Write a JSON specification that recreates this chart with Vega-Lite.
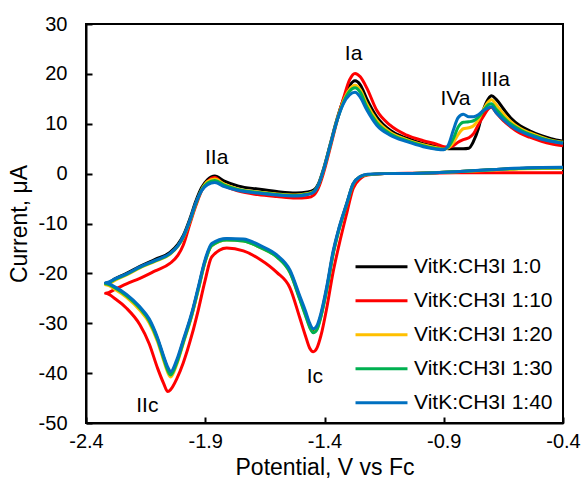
{
  "$schema": "https://vega.github.io/schema/vega-lite/v6.json",
  "width": 477,
  "height": 399,
  "autosize": {"type": "none"},
  "padding": {"left": 86, "top": 24, "right": 23, "bottom": 62},
  "background": "white",
  "config": {
    "font": "Liberation Sans",
    "view": {"stroke": "black", "strokeWidth": 2},
    "axis": {"grid": false, "domainColor": "black", "domainWidth": 2, "tickColor": "black", "tickWidth": 2, "labelColor": "black", "titleColor": "black", "labelFont": "Liberation Sans", "titleFont": "Liberation Sans", "labelFontSize": 20, "titleFontSize": 23, "titleFontWeight": "normal"}
  },
  "layer": [
    {
      "data": {
        "values": [
          {"i":0,"x":-0.40,"VitK:CH3I 1:0":1.2,"VitK:CH3I 1:10":0.2,"VitK:CH3I 1:20":1.1,"VitK:CH3I 1:30":1.2,"VitK:CH3I 1:40":1.3},
          {"i":1,"x":-0.55,"VitK:CH3I 1:0":1.1,"VitK:CH3I 1:10":0.2,"VitK:CH3I 1:20":1.0,"VitK:CH3I 1:30":1.1,"VitK:CH3I 1:40":1.2},
          {"i":2,"x":-0.70,"VitK:CH3I 1:0":0.8,"VitK:CH3I 1:10":0.2,"VitK:CH3I 1:20":0.7,"VitK:CH3I 1:30":0.8,"VitK:CH3I 1:40":0.8},
          {"i":3,"x":-0.85,"VitK:CH3I 1:0":0.4,"VitK:CH3I 1:10":0.2,"VitK:CH3I 1:20":0.4,"VitK:CH3I 1:30":0.4,"VitK:CH3I 1:40":0.4},
          {"i":4,"x":-1.00,"VitK:CH3I 1:0":0.1,"VitK:CH3I 1:10":0.1,"VitK:CH3I 1:20":0.1,"VitK:CH3I 1:30":0.1,"VitK:CH3I 1:40":0.1},
          {"i":5,"x":-1.15,"VitK:CH3I 1:0":0.0,"VitK:CH3I 1:10":0.0,"VitK:CH3I 1:20":0.0,"VitK:CH3I 1:30":0.0,"VitK:CH3I 1:40":0.0},
          {"i":6,"x":-1.22,"VitK:CH3I 1:0":-0.2,"VitK:CH3I 1:10":-0.3,"VitK:CH3I 1:20":-0.2,"VitK:CH3I 1:30":-0.2,"VitK:CH3I 1:40":-0.1},
          {"i":7,"x":-1.25,"VitK:CH3I 1:0":-0.6,"VitK:CH3I 1:10":-1.0,"VitK:CH3I 1:20":-0.6,"VitK:CH3I 1:30":-0.6,"VitK:CH3I 1:40":-0.6},
          {"i":8,"x":-1.28,"VitK:CH3I 1:0":-2.1,"VitK:CH3I 1:10":-3.0,"VitK:CH3I 1:20":-2.1,"VitK:CH3I 1:30":-2.1,"VitK:CH3I 1:40":-2.0},
          {"i":9,"x":-1.307,"VitK:CH3I 1:0":-6.1,"VitK:CH3I 1:10":-8.0,"VitK:CH3I 1:20":-6.1,"VitK:CH3I 1:30":-6.2,"VitK:CH3I 1:40":-6.0},
          {"i":10,"x":-1.34,"VitK:CH3I 1:0":-11.2,"VitK:CH3I 1:10":-14.5,"VitK:CH3I 1:20":-11.3,"VitK:CH3I 1:30":-11.4,"VitK:CH3I 1:40":-11.0},
          {"i":11,"x":-1.365,"VitK:CH3I 1:0":-16.2,"VitK:CH3I 1:10":-20.0,"VitK:CH3I 1:20":-16.3,"VitK:CH3I 1:30":-16.4,"VitK:CH3I 1:40":-15.8},
          {"i":12,"x":-1.39,"VitK:CH3I 1:0":-22.9,"VitK:CH3I 1:10":-26.8,"VitK:CH3I 1:20":-23.0,"VitK:CH3I 1:30":-23.1,"VitK:CH3I 1:40":-22.5},
          {"i":13,"x":-1.415,"VitK:CH3I 1:0":-28.4,"VitK:CH3I 1:10":-32.5,"VitK:CH3I 1:20":-28.6,"VitK:CH3I 1:30":-28.7,"VitK:CH3I 1:40":-28.0},
          {"i":14,"x":-1.432,"VitK:CH3I 1:0":-30.9,"VitK:CH3I 1:10":-35.0,"VitK:CH3I 1:20":-31.2,"VitK:CH3I 1:30":-31.3,"VitK:CH3I 1:40":-30.5},
          {"i":15,"x":-1.447,"VitK:CH3I 1:0":-31.5,"VitK:CH3I 1:10":-35.7,"VitK:CH3I 1:20":-31.8,"VitK:CH3I 1:30":-31.9,"VitK:CH3I 1:40":-31.1},
          {"i":16,"x":-1.462,"VitK:CH3I 1:0":-30.4,"VitK:CH3I 1:10":-35.0,"VitK:CH3I 1:20":-30.7,"VitK:CH3I 1:30":-30.8,"VitK:CH3I 1:40":-30.0},
          {"i":17,"x":-1.48,"VitK:CH3I 1:0":-28.0,"VitK:CH3I 1:10":-32.5,"VitK:CH3I 1:20":-28.3,"VitK:CH3I 1:30":-28.4,"VitK:CH3I 1:40":-27.5},
          {"i":18,"x":-1.503,"VitK:CH3I 1:0":-25.0,"VitK:CH3I 1:10":-29.0,"VitK:CH3I 1:20":-25.2,"VitK:CH3I 1:30":-25.3,"VitK:CH3I 1:40":-24.6},
          {"i":19,"x":-1.545,"VitK:CH3I 1:0":-19.6,"VitK:CH3I 1:10":-22.9,"VitK:CH3I 1:20":-19.8,"VitK:CH3I 1:30":-19.8,"VitK:CH3I 1:40":-19.3},
          {"i":20,"x":-1.60,"VitK:CH3I 1:0":-16.6,"VitK:CH3I 1:10":-19.8,"VitK:CH3I 1:20":-16.7,"VitK:CH3I 1:30":-16.7,"VitK:CH3I 1:40":-16.3},
          {"i":21,"x":-1.67,"VitK:CH3I 1:0":-14.7,"VitK:CH3I 1:10":-17.2,"VitK:CH3I 1:20":-14.8,"VitK:CH3I 1:30":-14.8,"VitK:CH3I 1:40":-14.4},
          {"i":22,"x":-1.74,"VitK:CH3I 1:0":-13.4,"VitK:CH3I 1:10":-15.5,"VitK:CH3I 1:20":-13.5,"VitK:CH3I 1:30":-13.5,"VitK:CH3I 1:40":-13.1},
          {"i":23,"x":-1.81,"VitK:CH3I 1:0":-13.1,"VitK:CH3I 1:10":-14.9,"VitK:CH3I 1:20":-13.3,"VitK:CH3I 1:30":-13.3,"VitK:CH3I 1:40":-13.0},
          {"i":24,"x":-1.873,"VitK:CH3I 1:0":-14.3,"VitK:CH3I 1:10":-16.7,"VitK:CH3I 1:20":-14.5,"VitK:CH3I 1:30":-14.4,"VitK:CH3I 1:40":-14.0},
          {"i":25,"x":-1.901,"VitK:CH3I 1:0":-17.6,"VitK:CH3I 1:10":-21.5,"VitK:CH3I 1:20":-17.8,"VitK:CH3I 1:30":-17.7,"VitK:CH3I 1:40":-17.3},
          {"i":26,"x":-1.929,"VitK:CH3I 1:0":-23.0,"VitK:CH3I 1:10":-27.3,"VitK:CH3I 1:20":-23.3,"VitK:CH3I 1:30":-23.1,"VitK:CH3I 1:40":-22.7},
          {"i":27,"x":-1.957,"VitK:CH3I 1:0":-28.3,"VitK:CH3I 1:10":-32.5,"VitK:CH3I 1:20":-28.6,"VitK:CH3I 1:30":-28.4,"VitK:CH3I 1:40":-28.0},
          {"i":28,"x":-1.992,"VitK:CH3I 1:0":-33.6,"VitK:CH3I 1:10":-37.9,"VitK:CH3I 1:20":-34.0,"VitK:CH3I 1:30":-33.8,"VitK:CH3I 1:40":-33.3},
          {"i":29,"x":-2.02,"VitK:CH3I 1:0":-37.8,"VitK:CH3I 1:10":-41.2,"VitK:CH3I 1:20":-38.3,"VitK:CH3I 1:30":-38.0,"VitK:CH3I 1:40":-37.4},
          {"i":30,"x":-2.045,"VitK:CH3I 1:0":-40.1,"VitK:CH3I 1:10":-43.3,"VitK:CH3I 1:20":-40.8,"VitK:CH3I 1:30":-40.4,"VitK:CH3I 1:40":-39.7},
          {"i":31,"x":-2.057,"VitK:CH3I 1:0":-39.2,"VitK:CH3I 1:10":-43.7,"VitK:CH3I 1:20":-39.9,"VitK:CH3I 1:30":-39.5,"VitK:CH3I 1:40":-38.8},
          {"i":32,"x":-2.075,"VitK:CH3I 1:0":-36.8,"VitK:CH3I 1:10":-42.0,"VitK:CH3I 1:20":-37.4,"VitK:CH3I 1:30":-37.0,"VitK:CH3I 1:40":-36.5},
          {"i":33,"x":-2.10,"VitK:CH3I 1:0":-33.2,"VitK:CH3I 1:10":-39.0,"VitK:CH3I 1:20":-33.7,"VitK:CH3I 1:30":-33.3,"VitK:CH3I 1:40":-32.9},
          {"i":34,"x":-2.135,"VitK:CH3I 1:0":-29.4,"VitK:CH3I 1:10":-34.1,"VitK:CH3I 1:20":-29.9,"VitK:CH3I 1:30":-29.5,"VitK:CH3I 1:40":-29.1},
          {"i":35,"x":-2.174,"VitK:CH3I 1:0":-27.0,"VitK:CH3I 1:10":-30.3,"VitK:CH3I 1:20":-27.4,"VitK:CH3I 1:30":-27.0,"VitK:CH3I 1:40":-26.7},
          {"i":36,"x":-2.23,"VitK:CH3I 1:0":-24.4,"VitK:CH3I 1:10":-27.0,"VitK:CH3I 1:20":-24.8,"VitK:CH3I 1:30":-24.5,"VitK:CH3I 1:40":-24.2},
          {"i":37,"x":-2.275,"VitK:CH3I 1:0":-23.0,"VitK:CH3I 1:10":-25.2,"VitK:CH3I 1:20":-23.3,"VitK:CH3I 1:30":-23.0,"VitK:CH3I 1:40":-22.8},
          {"i":38,"x":-2.318,"VitK:CH3I 1:0":-22.0,"VitK:CH3I 1:10":-24.0,"VitK:CH3I 1:20":-22.3,"VitK:CH3I 1:30":-22.1,"VitK:CH3I 1:40":-21.9},
          {"i":39,"x":-2.275,"VitK:CH3I 1:0":-21.0,"VitK:CH3I 1:10":-23.1,"VitK:CH3I 1:20":-21.3,"VitK:CH3I 1:30":-21.1,"VitK:CH3I 1:40":-21.0},
          {"i":40,"x":-2.23,"VitK:CH3I 1:0":-20.0,"VitK:CH3I 1:10":-22.1,"VitK:CH3I 1:20":-20.3,"VitK:CH3I 1:30":-20.2,"VitK:CH3I 1:40":-20.1},
          {"i":41,"x":-2.174,"VitK:CH3I 1:0":-18.6,"VitK:CH3I 1:10":-21.0,"VitK:CH3I 1:20":-18.9,"VitK:CH3I 1:30":-18.8,"VitK:CH3I 1:40":-18.7},
          {"i":42,"x":-2.11,"VitK:CH3I 1:0":-17.2,"VitK:CH3I 1:10":-19.5,"VitK:CH3I 1:20":-17.6,"VitK:CH3I 1:30":-17.5,"VitK:CH3I 1:40":-17.4},
          {"i":43,"x":-2.048,"VitK:CH3I 1:0":-15.8,"VitK:CH3I 1:10":-18.0,"VitK:CH3I 1:20":-16.2,"VitK:CH3I 1:30":-16.1,"VitK:CH3I 1:40":-16.0},
          {"i":44,"x":-2.015,"VitK:CH3I 1:0":-14.2,"VitK:CH3I 1:10":-16.4,"VitK:CH3I 1:20":-14.6,"VitK:CH3I 1:30":-14.5,"VitK:CH3I 1:40":-14.5},
          {"i":45,"x":-1.992,"VitK:CH3I 1:0":-12.4,"VitK:CH3I 1:10":-14.3,"VitK:CH3I 1:20":-12.8,"VitK:CH3I 1:30":-12.7,"VitK:CH3I 1:40":-12.6},
          {"i":46,"x":-1.964,"VitK:CH3I 1:0":-9.0,"VitK:CH3I 1:10":-10.0,"VitK:CH3I 1:20":-9.5,"VitK:CH3I 1:30":-9.4,"VitK:CH3I 1:40":-9.3},
          {"i":47,"x":-1.94,"VitK:CH3I 1:0":-5.6,"VitK:CH3I 1:10":-6.5,"VitK:CH3I 1:20":-6.1,"VitK:CH3I 1:30":-6.1,"VitK:CH3I 1:40":-5.9},
          {"i":48,"x":-1.915,"VitK:CH3I 1:0":-2.8,"VitK:CH3I 1:10":-3.4,"VitK:CH3I 1:20":-3.2,"VitK:CH3I 1:30":-3.3,"VitK:CH3I 1:40":-3.4},
          {"i":49,"x":-1.89,"VitK:CH3I 1:0":-1.2,"VitK:CH3I 1:10":-1.6,"VitK:CH3I 1:20":-1.6,"VitK:CH3I 1:30":-1.9,"VitK:CH3I 1:40":-2.2},
          {"i":50,"x":-1.86,"VitK:CH3I 1:0":-0.5,"VitK:CH3I 1:10":-0.8,"VitK:CH3I 1:20":-1.1,"VitK:CH3I 1:30":-1.4,"VitK:CH3I 1:40":-1.8},
          {"i":51,"x":-1.82,"VitK:CH3I 1:0":-1.5,"VitK:CH3I 1:10":-2.4,"VitK:CH3I 1:20":-2.1,"VitK:CH3I 1:30":-2.3,"VitK:CH3I 1:40":-2.6},
          {"i":52,"x":-1.76,"VitK:CH3I 1:0":-2.5,"VitK:CH3I 1:10":-3.5,"VitK:CH3I 1:20":-3.1,"VitK:CH3I 1:30":-3.2,"VitK:CH3I 1:40":-3.4},
          {"i":53,"x":-1.68,"VitK:CH3I 1:0":-3.1,"VitK:CH3I 1:10":-4.2,"VitK:CH3I 1:20":-3.7,"VitK:CH3I 1:30":-3.8,"VitK:CH3I 1:40":-3.9},
          {"i":54,"x":-1.60,"VitK:CH3I 1:0":-3.6,"VitK:CH3I 1:10":-4.6,"VitK:CH3I 1:20":-4.1,"VitK:CH3I 1:30":-4.2,"VitK:CH3I 1:40":-4.3},
          {"i":55,"x":-1.52,"VitK:CH3I 1:0":-3.9,"VitK:CH3I 1:10":-4.9,"VitK:CH3I 1:20":-4.3,"VitK:CH3I 1:30":-4.4,"VitK:CH3I 1:40":-4.5},
          {"i":56,"x":-1.47,"VitK:CH3I 1:0":-3.7,"VitK:CH3I 1:10":-4.8,"VitK:CH3I 1:20":-4.0,"VitK:CH3I 1:30":-4.1,"VitK:CH3I 1:40":-4.2},
          {"i":57,"x":-1.445,"VitK:CH3I 1:0":-3.3,"VitK:CH3I 1:10":-4.3,"VitK:CH3I 1:20":-3.6,"VitK:CH3I 1:30":-3.6,"VitK:CH3I 1:40":-3.7},
          {"i":58,"x":-1.425,"VitK:CH3I 1:0":-2.0,"VitK:CH3I 1:10":-2.8,"VitK:CH3I 1:20":-2.2,"VitK:CH3I 1:30":-2.2,"VitK:CH3I 1:40":-2.2},
          {"i":59,"x":-1.405,"VitK:CH3I 1:0":0.8,"VitK:CH3I 1:10":0.0,"VitK:CH3I 1:20":0.6,"VitK:CH3I 1:30":0.6,"VitK:CH3I 1:40":0.6},
          {"i":60,"x":-1.377,"VitK:CH3I 1:0":5.7,"VitK:CH3I 1:10":5.0,"VitK:CH3I 1:20":5.5,"VitK:CH3I 1:30":5.5,"VitK:CH3I 1:40":5.5},
          {"i":61,"x":-1.349,"VitK:CH3I 1:0":10.7,"VitK:CH3I 1:10":10.3,"VitK:CH3I 1:20":10.5,"VitK:CH3I 1:30":10.4,"VitK:CH3I 1:40":10.4},
          {"i":62,"x":-1.321,"VitK:CH3I 1:0":14.8,"VitK:CH3I 1:10":15.0,"VitK:CH3I 1:20":14.5,"VitK:CH3I 1:30":14.2,"VitK:CH3I 1:40":14.0},
          {"i":63,"x":-1.295,"VitK:CH3I 1:0":17.6,"VitK:CH3I 1:10":18.8,"VitK:CH3I 1:20":16.9,"VitK:CH3I 1:30":16.5,"VitK:CH3I 1:40":15.8},
          {"i":64,"x":-1.272,"VitK:CH3I 1:0":18.6,"VitK:CH3I 1:10":20.1,"VitK:CH3I 1:20":17.7,"VitK:CH3I 1:30":17.2,"VitK:CH3I 1:40":16.3},
          {"i":65,"x":-1.25,"VitK:CH3I 1:0":17.8,"VitK:CH3I 1:10":19.4,"VitK:CH3I 1:20":16.8,"VitK:CH3I 1:30":16.3,"VitK:CH3I 1:40":15.3},
          {"i":66,"x":-1.223,"VitK:CH3I 1:0":15.0,"VitK:CH3I 1:10":17.2,"VitK:CH3I 1:20":14.0,"VitK:CH3I 1:30":13.4,"VitK:CH3I 1:40":12.8},
          {"i":67,"x":-1.181,"VitK:CH3I 1:0":11.4,"VitK:CH3I 1:10":12.7,"VitK:CH3I 1:20":10.7,"VitK:CH3I 1:30":10.2,"VitK:CH3I 1:40":9.7},
          {"i":68,"x":-1.125,"VitK:CH3I 1:0":8.7,"VitK:CH3I 1:10":9.7,"VitK:CH3I 1:20":8.3,"VitK:CH3I 1:30":8.0,"VitK:CH3I 1:40":7.7},
          {"i":69,"x":-1.055,"VitK:CH3I 1:0":7.1,"VitK:CH3I 1:10":7.7,"VitK:CH3I 1:20":6.8,"VitK:CH3I 1:30":6.6,"VitK:CH3I 1:40":6.4},
          {"i":70,"x":-0.986,"VitK:CH3I 1:0":6.0,"VitK:CH3I 1:10":6.6,"VitK:CH3I 1:20":5.8,"VitK:CH3I 1:30":5.6,"VitK:CH3I 1:40":5.4},
          {"i":71,"x":-0.93,"VitK:CH3I 1:0":5.4,"VitK:CH3I 1:10":5.9,"VitK:CH3I 1:20":5.2,"VitK:CH3I 1:30":5.0,"VitK:CH3I 1:40":4.9},
          {"i":72,"x":-0.90,"VitK:CH3I 1:0":5.1,"VitK:CH3I 1:10":5.4,"VitK:CH3I 1:20":4.9,"VitK:CH3I 1:30":4.9,"VitK:CH3I 1:40":4.8},
          {"i":73,"x":-0.88,"VitK:CH3I 1:0":5.0,"VitK:CH3I 1:10":5.3,"VitK:CH3I 1:20":5.2,"VitK:CH3I 1:30":5.4,"VitK:CH3I 1:40":5.8},
          {"i":74,"x":-0.86,"VitK:CH3I 1:0":5.0,"VitK:CH3I 1:10":5.6,"VitK:CH3I 1:20":6.2,"VitK:CH3I 1:30":7.0,"VitK:CH3I 1:40":8.7},
          {"i":75,"x":-0.84,"VitK:CH3I 1:0":5.0,"VitK:CH3I 1:10":6.3,"VitK:CH3I 1:20":7.8,"VitK:CH3I 1:30":9.3,"VitK:CH3I 1:40":11.2},
          {"i":76,"x":-0.818,"VitK:CH3I 1:0":5.0,"VitK:CH3I 1:10":6.8,"VitK:CH3I 1:20":9.0,"VitK:CH3I 1:30":10.3,"VitK:CH3I 1:40":11.9},
          {"i":77,"x":-0.795,"VitK:CH3I 1:0":5.1,"VitK:CH3I 1:10":7.2,"VitK:CH3I 1:20":9.2,"VitK:CH3I 1:30":10.4,"VitK:CH3I 1:40":11.4},
          {"i":78,"x":-0.775,"VitK:CH3I 1:0":6.5,"VitK:CH3I 1:10":8.0,"VitK:CH3I 1:20":9.6,"VitK:CH3I 1:30":10.6,"VitK:CH3I 1:40":11.4},
          {"i":79,"x":-0.755,"VitK:CH3I 1:0":9.0,"VitK:CH3I 1:10":9.8,"VitK:CH3I 1:20":10.8,"VitK:CH3I 1:30":11.3,"VitK:CH3I 1:40":11.8},
          {"i":80,"x":-0.735,"VitK:CH3I 1:0":12.6,"VitK:CH3I 1:10":11.4,"VitK:CH3I 1:20":12.7,"VitK:CH3I 1:30":12.5,"VitK:CH3I 1:40":12.6},
          {"i":81,"x":-0.713,"VitK:CH3I 1:0":15.0,"VitK:CH3I 1:10":13.0,"VitK:CH3I 1:20":14.4,"VitK:CH3I 1:30":13.8,"VitK:CH3I 1:40":13.2},
          {"i":82,"x":-0.70,"VitK:CH3I 1:0":15.6,"VitK:CH3I 1:10":13.3,"VitK:CH3I 1:20":14.8,"VitK:CH3I 1:30":14.0,"VitK:CH3I 1:40":13.4},
          {"i":83,"x":-0.68,"VitK:CH3I 1:0":14.9,"VitK:CH3I 1:10":12.2,"VitK:CH3I 1:20":13.8,"VitK:CH3I 1:30":12.9,"VitK:CH3I 1:40":12.2},
          {"i":84,"x":-0.65,"VitK:CH3I 1:0":13.0,"VitK:CH3I 1:10":10.6,"VitK:CH3I 1:20":12.0,"VitK:CH3I 1:30":11.3,"VitK:CH3I 1:40":10.8},
          {"i":85,"x":-0.62,"VitK:CH3I 1:0":11.2,"VitK:CH3I 1:10":9.4,"VitK:CH3I 1:20":10.5,"VitK:CH3I 1:30":10.0,"VitK:CH3I 1:40":9.6},
          {"i":86,"x":-0.58,"VitK:CH3I 1:0":9.6,"VitK:CH3I 1:10":8.1,"VitK:CH3I 1:20":9.1,"VitK:CH3I 1:30":8.8,"VitK:CH3I 1:40":8.5},
          {"i":87,"x":-0.54,"VitK:CH3I 1:0":8.6,"VitK:CH3I 1:10":7.3,"VitK:CH3I 1:20":8.2,"VitK:CH3I 1:30":7.9,"VitK:CH3I 1:40":7.7},
          {"i":88,"x":-0.49,"VitK:CH3I 1:0":7.6,"VitK:CH3I 1:10":6.5,"VitK:CH3I 1:20":7.3,"VitK:CH3I 1:30":7.1,"VitK:CH3I 1:40":6.9},
          {"i":89,"x":-0.45,"VitK:CH3I 1:0":7.0,"VitK:CH3I 1:10":6.0,"VitK:CH3I 1:20":6.7,"VitK:CH3I 1:30":6.6,"VitK:CH3I 1:40":6.5},
          {"i":90,"x":-0.40,"VitK:CH3I 1:0":6.5,"VitK:CH3I 1:10":5.6,"VitK:CH3I 1:20":6.3,"VitK:CH3I 1:30":6.2,"VitK:CH3I 1:40":6.1}
        ]
      },
      "transform": [
        {"fold": ["VitK:CH3I 1:0", "VitK:CH3I 1:10", "VitK:CH3I 1:20", "VitK:CH3I 1:30", "VitK:CH3I 1:40"], "as": ["series", "current"]}
      ],
      "mark": {"type": "line", "strokeWidth": 3, "interpolate": "monotone", "strokeJoin": "round"},
      "encoding": {
        "x": {"field": "x", "type": "quantitative", "scale": {"domain": [-2.4, -0.4], "nice": false, "zero": false},
          "axis": {"title": "Potential, V vs Fc", "values": [-2.4, -1.9, -1.4, -0.9, -0.4], "labelExpr": "replace(format(datum.value, '.1f'), '−', '-')", "tickSize": -6, "labelPadding": 14, "titlePadding": 5, "labelFlush": false}},
        "y": {"field": "current", "type": "quantitative", "scale": {"domain": [-50, 30], "nice": false, "zero": false},
          "axis": {"title": "Current, μA", "values": [-50, -40, -30, -20, -10, 0, 10, 20, 30], "labelExpr": "replace(format(datum.value, 'd'), '−', '-')", "tickSize": -6, "labelPadding": 25, "titlePadding": 7, "labelFlush": false}},
        "color": {"field": "series", "type": "nominal",
          "scale": {"domain": ["VitK:CH3I 1:0", "VitK:CH3I 1:10", "VitK:CH3I 1:20", "VitK:CH3I 1:30", "VitK:CH3I 1:40"], "range": ["#000000", "#FF0000", "#FFC000", "#00B050", "#0070C0"]},
          "legend": {"title": null, "orient": "none", "legendX": 268, "legendY": 226, "symbolType": "stroke", "symbolSize": 2700, "symbolStrokeWidth": 3, "clipHeight": 33.6, "labelFontSize": 21, "labelFont": "Liberation Sans", "labelColor": "black", "rowPadding": 0, "labelOffset": 5}},
        "order": {"field": "i", "type": "quantitative"}
      }
    },
    {
      "data": {
        "values": [
          {"label": "IIa", "x": -1.852, "y": 3.1},
          {"label": "Ia", "x": -1.278, "y": 24.0},
          {"label": "IVa", "x": -0.851, "y": 14.95},
          {"label": "IIIa", "x": -0.684, "y": 18.8},
          {"label": "IIc", "x": -2.143, "y": -46.6},
          {"label": "Ic", "x": -1.44, "y": -40.8}
        ]
      },
      "mark": {"type": "text", "fontSize": 21, "font": "Liberation Sans", "align": "center", "baseline": "middle", "color": "black"},
      "encoding": {
        "x": {"field": "x", "type": "quantitative"},
        "y": {"field": "y", "type": "quantitative"},
        "text": {"field": "label"}
      }
    }
  ]
}
